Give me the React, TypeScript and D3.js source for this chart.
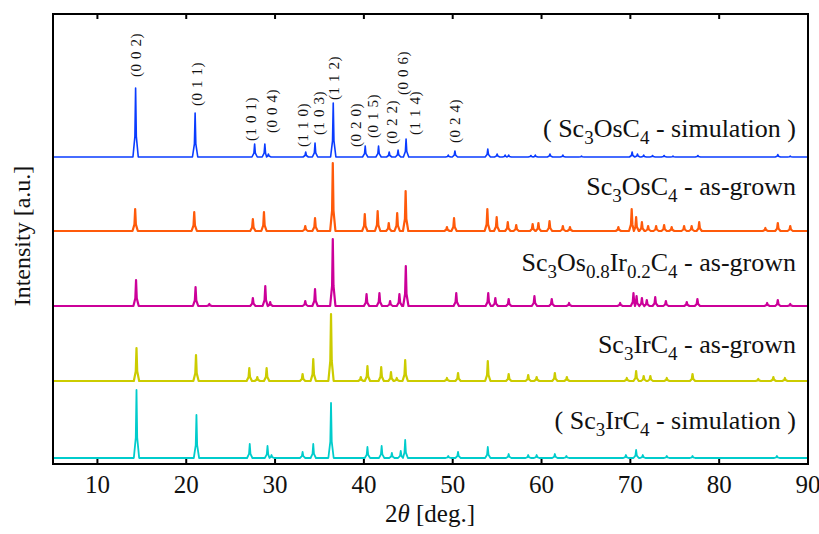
import * as d3 from "d3";

// 2θ [deg], peak height [a.u.]
const OS_SIM: [number, number][] = [
  [14.3, 69], [21.0, 44], [27.7, 13], [28.85, 13], [29.25, 3], [33.45, 5], [34.5, 14],
  [36.55, 54], [40.15, 11], [41.65, 11], [42.85, 5], [43.85, 7], [44.75, 18], [49.5, 2],
  [50.25, 6], [53.95, 8], [55.0, 3], [55.9, 2], [56.3, 2], [58.8, 1.5], [59.3, 2],
  [60.95, 3], [62.4, 2], [64.5, 1], [70.2, 5], [70.8, 3], [71.5, 2], [72.5, 1.5],
  [73.8, 1.5], [74.8, 1], [77.6, 1.5], [86.6, 2.5], [88.0, 1],
];
const OS_GROWN: [number, number][] = [
  [14.25, 22], [20.9, 19], [27.5, 12], [28.75, 19], [33.4, 5], [34.5, 13], [36.5, 68],
  [40.1, 17], [41.55, 20], [42.8, 8], [43.75, 18], [44.7, 40], [49.35, 4], [50.15, 13],
  [53.9, 22], [54.95, 14], [56.2, 9], [57.15, 6], [59.0, 7], [59.65, 8], [60.9, 10],
  [62.4, 5], [63.2, 4], [68.65, 4], [70.15, 22], [70.65, 14], [71.3, 9], [72.0, 5],
  [72.9, 5], [73.8, 6], [74.65, 4], [76.05, 5], [76.9, 5], [77.75, 9], [85.2, 3],
  [86.6, 8], [88.0, 5],
];
const OSIR_GROWN: [number, number][] = [
  [14.35, 26], [21.05, 19], [22.6, 2], [27.5, 8], [28.9, 20], [29.45, 4], [33.4, 5],
  [34.5, 17], [36.5, 67], [40.3, 12], [41.75, 13], [42.95, 5], [44.0, 12], [44.72, 40],
  [50.4, 13], [54.0, 13], [54.8, 8], [56.3, 7], [59.2, 10], [61.15, 7], [63.1, 3],
  [68.85, 3], [70.35, 13], [70.7, 10], [71.3, 8], [71.85, 6], [72.8, 9], [74.0, 5],
  [76.35, 4], [77.55, 7], [85.4, 3], [86.6, 6], [88.0, 2],
];
const IR_GROWN: [number, number][] = [
  [14.4, 33], [21.1, 26], [27.1, 13], [28.0, 4], [29.05, 13], [33.1, 7], [34.3, 22],
  [36.3, 67], [39.65, 4], [40.4, 15], [41.95, 14], [43.05, 9], [43.7, 3], [44.65, 21],
  [49.35, 3], [50.6, 8], [53.95, 20], [56.3, 7], [58.5, 6], [59.45, 4], [61.5, 8],
  [62.85, 4], [69.6, 3], [70.65, 10], [71.5, 5], [72.25, 5], [74.1, 3], [77.0, 7],
  [84.4, 2], [86.1, 4], [87.4, 3],
];
const IR_SIM: [number, number][] = [
  [14.4, 68], [21.15, 43], [27.15, 14], [29.15, 12], [29.6, 3], [33.1, 6], [34.3, 14],
  [36.3, 55], [40.4, 11], [42.0, 12], [43.15, 5], [44.15, 7], [44.65, 18], [49.5, 2],
  [50.6, 6], [53.95, 11], [56.3, 4], [58.5, 3], [59.45, 3], [61.5, 4], [62.8, 2],
  [69.5, 3], [70.65, 8], [71.4, 3], [74.1, 2], [77.0, 2], [86.5, 2],
];

const PATTERNS = [OS_SIM, OS_GROWN, OSIR_GROWN, IR_GROWN, IR_SIM];
const OFFSETS = [307, 233, 158, 83, 6];
const COLORS = ["#0a3cff", "#ff5a0a", "#cc0099", "#cccc00", "#00cccc"];
const WIDTHS = [1.6, 2.2, 2.2, 2.2, 1.8];

// legend parts: [text, isSubscript]
const LEGENDS: [string, boolean][][] = [
  [["( Sc", false], ["3", true], ["OsC", false], ["4", true], [" - simulation )", false]],
  [["Sc", false], ["3", true], ["OsC", false], ["4", true], [" - as-grown", false]],
  [["Sc", false], ["3", true], ["Os", false], ["0.8", true], ["Ir", false], ["0.2", true], ["C", false], ["4", true], [" - as-grown", false]],
  [["Sc", false], ["3", true], ["IrC", false], ["4", true], [" - as-grown", false]],
  [["( Sc", false], ["3", true], ["IrC", false], ["4", true], [" - simulation )", false]],
];
const LEGEND_Y = [327, 269, 193, 111, 35];

// hkl labels: text, 2θ of label, label foot height
const HKL: [string, number, number][] = [
  ["(0 0 2)", 14.3, 387], ["(0 1 1)", 21.2, 358], ["(1 0 1)", 27.25, 323],
  ["(0 0 4)", 29.6, 331], ["(1 1 0)", 33.1, 317], ["(1 0 3)", 34.95, 329],
  ["(1 1 2)", 36.65, 364], ["(0 2 0)", 39.1, 317], ["(0 1 5)", 41.05, 326],
  ["(0 2 2)", 43.15, 320], ["(0 0 6)", 44.35, 369], ["(1 1 4)", 45.8, 329],
  ["(0 2 4)", 50.25, 321],
];

const X_TICKS = [10, 20, 30, 40, 50, 60, 70, 80, 90];

const W = 819, H = 534;
const FONT = "Liberation Serif";

function spikes(peaks: [number, number][]): [number, number][] {
  const pts: [number, number][] = [[5, 0]];
  const s = [...peaks].sort((a, b) => a[0] - b[0]);
  s.forEach(([p, h], i) => {
    const prev = i > 0 ? (s[i - 1][0] + p) / 2 : 5;
    const next = i < s.length - 1 ? (s[i + 1][0] + p) / 2 : 90;
    const l = Math.max(p - 0.3, prev), r = Math.min(p + 0.3, next);
    pts.push([l, 0], [p - 0.08, h * 0.3], [p, h], [p + 0.08, h * 0.3], [r, 0]);
  });
  pts.push([90, 0]);
  return pts;
}

export default function App() {
  const x = d3.scaleLinear().domain([5, 90]).range([53, 808]);
  const y = d3.scaleLinear().domain([0, 450]).range([464, 14]);
  const ts = { fontFamily: FONT, whiteSpace: "pre" as const };

  return (
    <svg width={W} height={H} style={{ position: "absolute", left: 0, top: 0, background: "white" }}>
      <rect width={W} height={H} fill="white" />
      {PATTERNS.map((pk, i) => {
        const line = d3.line<[number, number]>().x(d => x(d[0])).y(d => y(d[1] + OFFSETS[i]));
        return <path key={i} d={line(spikes(pk)) ?? ""} fill="none" stroke={COLORS[i]} strokeWidth={WIDTHS[i]} strokeLinejoin="round" />;
      })}

      {HKL.map(([t, p, h]) => (
        <text key={t + p} transform={`translate(${x(p)},${y(h)}) rotate(-90)`} dominantBaseline="central"
          fontSize={15} letterSpacing={0.6} fill="#111" style={ts}>{t}</text>
      ))}

      {LEGENDS.map((parts, i) => (
        <text key={i} x={796} y={y(LEGEND_Y[i])} textAnchor="end" fontSize={26} fill="#111" style={ts}>
          {parts.map(([t, sub], j) => {
            const prevSub = j > 0 && parts[j - 1][1];
            const dy = sub ? (prevSub ? 0 : 7) : prevSub ? -7 : 0;
            return <tspan key={j} dy={dy} fontSize={sub ? 19 : 26}>{t}</tspan>;
          })}
        </text>
      ))}

      <rect x={53} y={14} width={755} height={450} fill="none" stroke="#000" strokeWidth={2} />
      {X_TICKS.map(t => (
        <g key={t}>
          <line x1={x(t)} x2={x(t)} y1={14} y2={19} stroke="#000" strokeWidth={2} />
          <line x1={x(t)} x2={x(t)} y1={464} y2={459} stroke="#000" strokeWidth={2} />
          <text x={x(t)} y={493} textAnchor="middle" fontSize={25} fill="#111" style={ts}>{t}</text>
        </g>
      ))}

      <text x={430} y={522} textAnchor="middle" fontSize={25} fill="#111" style={ts}>
        <tspan>2</tspan><tspan fontStyle="italic">θ</tspan><tspan> [deg.]</tspan>
      </text>
      <text transform="translate(30,236) rotate(-90)" textAnchor="middle" fontSize={24} fill="#111" style={ts}>Intensity [a.u.]</text>
    </svg>
  );
}
